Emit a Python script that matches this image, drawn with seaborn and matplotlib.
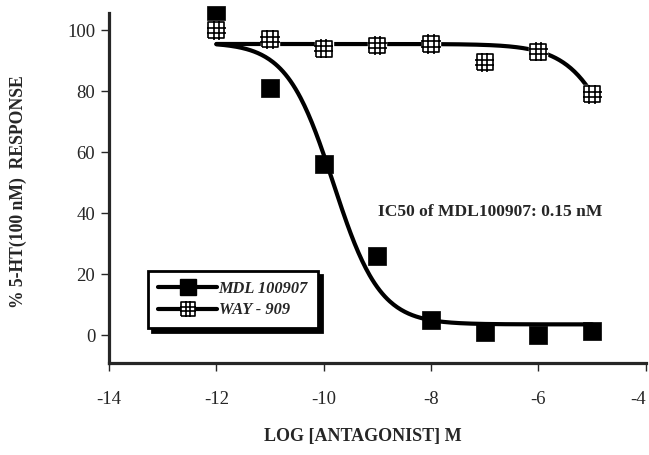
import matplotlib
matplotlib.use("Agg")
import matplotlib.pyplot as plt
from matplotlib.lines import Line2D
from matplotlib.path import Path
import numpy as np
import pandas as pd
import seaborn as sns

log_conc = [-12, -11, -10, -9, -8, -7, -6, -5]
mdl_response = [105, 81, 56, 26, 5, 1, 0, 1.3]
way_response = [100, 97, 94, 95, 95.5, 89.5, 93, 79]

# Four-parameter logistic fit parameters: top, bottom, log IC50, hill slope
mdl_fit = dict(top=96, bottom=3.5, log_ic50=-9.82, hill=1.0)
way_fit = dict(top=95.5, bottom=0.0, log_ic50=-4.24, hill=0.9)

series_names = ["MDL 100907", "WAY - 909"]
x_ticks = [-14, -12, -10, -8, -6, -4]
y_ticks = [0, 20, 40, 60, 80, 100]


def logistic(x, top, bottom, log_ic50, hill):
    return bottom + (top - bottom) / (1 + 10 ** ((x - log_ic50) * hill))


def grid_marker():
    """Open square cut into a 3x3 grid, inner lines poking out a little."""
    verts, codes = [], []
    sq = [(-1, -1), (1, -1), (1, 1), (-1, 1), (-1, -1)]
    verts += sq
    codes += [Path.MOVETO] + [Path.LINETO] * 4
    for v in (-1 / 3, 1 / 3):
        verts += [(v, -1.2), (v, 1.2), (-1.2, v), (1.2, v)]
        codes += [Path.MOVETO, Path.LINETO, Path.MOVETO, Path.LINETO]
    return Path(verts, codes)


points = pd.DataFrame(
    {
        "log_conc": log_conc * 2,
        "response": mdl_response + way_response,
        "drug": [series_names[0]] * len(log_conc) + [series_names[1]] * len(log_conc),
    }
)

x_fit = np.linspace(min(log_conc), max(log_conc), 300)
curves = pd.DataFrame(
    {
        "log_conc": np.concatenate([x_fit, x_fit]),
        "response": np.concatenate([logistic(x_fit, **mdl_fit), logistic(x_fit, **way_fit)]),
        "drug": [series_names[0]] * len(x_fit) + [series_names[1]] * len(x_fit),
    }
)

sns.set_style("ticks")
plt.rcParams["font.family"] = ["Liberation Serif", "DejaVu Serif"]
plt.rcParams["axes.unicode_minus"] = False

fig = plt.figure(figsize=(6.49, 4.55), dpi=100)
ax = fig.add_axes([0.168, 0.202, 0.827, 0.769])

sns.lineplot(
    data=curves, x="log_conc", y="response", hue="drug",
    palette=["black", "black"], linewidth=3.0, legend=False, ax=ax, zorder=2,
)

mdl_pts = points[points["drug"] == series_names[0]]
way_pts = points[points["drug"] == series_names[1]]
sns.scatterplot(
    data=mdl_pts, x="log_conc", y="response", marker="s", s=150,
    color="black", edgecolor="black", linewidth=0.5, ax=ax, zorder=3,
    legend=False, clip_on=False,
)
gm = grid_marker()
sns.scatterplot(
    data=way_pts, x="log_conc", y="response", marker="s", s=150,
    color="white", edgecolor="white", linewidth=1.0, ax=ax, zorder=3,
    legend=False, clip_on=False,
)
sns.scatterplot(
    data=way_pts, x="log_conc", y="response", marker=gm, s=190,
    facecolor="none", edgecolor="black", linewidth=1.2, ax=ax, zorder=4,
    legend=False, clip_on=False,
)

ax.set_xlim(-14, -4)
ax.set_ylim(-9.2, 105.6)
ax.set_xticks(x_ticks)
ax.set_yticks(y_ticks)
ax.tick_params(axis="both", direction="out", length=6, width=1.0, labelsize=13.5)
ax.tick_params(axis="x", pad=14)
ax.tick_params(axis="y", pad=4)
ax.get_xticklabels()[-1].set_horizontalalignment("right")
for side in ("top", "right"):
    ax.spines[side].set_visible(False)
for side in ("left", "bottom"):
    ax.spines[side].set_linewidth(2.3)

ax.set_xlabel("LOG [ANTAGONIST] M", fontsize=13, fontweight="bold")
ax.xaxis.set_label_coords(0.473, -0.185)
ax.set_ylabel("% 5-HT(100 nM)  RESPONSE", fontsize=12.7, fontweight="bold")
ax.yaxis.set_label_coords(-0.153, 0.49)

ax.text(-6.9, 40.5, "IC50 of MDL100907: 0.15 nM", fontsize=12.6,
        fontweight="bold", ha="center", va="center")

handles = [
    Line2D([], [], color="black", linewidth=3.0, marker="s", markersize=12,
           markerfacecolor="black", markeredgecolor="black"),
    Line2D([], [], color="black", linewidth=3.0, marker=gm, markersize=12,
           markerfacecolor="white", markeredgecolor="black", markeredgewidth=1.2),
]
leg = ax.legend(
    handles, series_names, loc="lower left", bbox_to_anchor=(0.073, 0.1),
    borderaxespad=0, frameon=True, fancybox=False, handlelength=3.6,
    handletextpad=0.1, borderpad=0.6, labelspacing=0.35,
    prop=dict(family=["Liberation Serif"], style="italic", weight="bold", size=11.8),
    shadow=dict(color="black", alpha=1.0, ox=3, oy=-3),
)
leg.get_frame().set_edgecolor("black")
leg.get_frame().set_linewidth(2.0)

fig.savefig("out.png", dpi=100)
